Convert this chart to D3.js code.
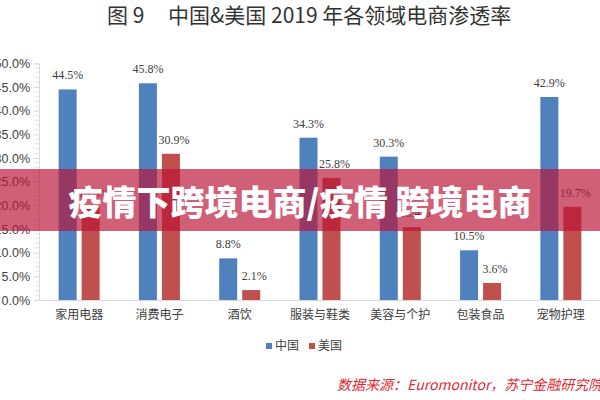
<!DOCTYPE html>
<html><head><meta charset="utf-8">
<script src="https://cdn.jsdelivr.net/npm/d3@7/dist/d3.min.js"></script>
<style>body{margin:0;background:#fff}svg{display:block}</style>
</head><body><svg id="c" width="600" height="400"></svg>
<script>
const categories = ["家用电器","消费电子","酒饮","服装与鞋类","美容与个护","包装食品","宠物护理"];
const chinaValues = [44.5, 45.8, 8.8, 34.3, 30.3, 10.5, 42.9];
const usValues = [19.6, 30.9, 2.1, 25.8, 15.4, 3.6, 19.7];
const seriesNames = ["中国","美国"];
const yTicks = [0,5,10,15,20,25,30,35,40,45,50];

const svg = d3.select("#c");
const colors = ["#4f81bd","#c0504d"];
const x = d3.scaleBand().domain(categories).range([39, 601]);
const y = d3.scaleLinear().domain([0,50]).range([300, 63.4]);

// title
svg.append("text").attr("x",107).attr("y",23).attr("font-family","Noto Sans CJK SC").attr("font-size",21).attr("fill","#333").text("图 9");
svg.append("text").attr("x",168).attr("y",23).attr("font-family","Noto Sans CJK SC").attr("font-size",21).attr("fill","#333").text("中国&美国 2019 年各领域电商渗透率");

// y axis
const yAxis = d3.axisLeft(y).tickValues(yTicks).tickFormat(d => d.toFixed(1) + "%").tickSize(5).tickPadding(4);
const gy = svg.append("g").attr("transform","translate(39,0)").call(yAxis);
gy.select(".domain").attr("stroke","#d9d9d9");
gy.selectAll(".tick line").attr("stroke","#d9d9d9");
gy.selectAll(".tick text").attr("font-family","Liberation Sans").attr("font-size",12.5).attr("fill","#404040");
const minor = d3.range(0,51,1).filter(v => v % 5 !== 0);
svg.append("g").selectAll("line").data(minor).join("line")
  .attr("x1",35).attr("x2",39).attr("y1",d=>y(d)).attr("y2",d=>y(d)).attr("stroke","#e3e3e3");

// x axis
const xAxis = d3.axisBottom(x).tickSize(0).tickPadding(10);
const gx = svg.append("g").attr("transform","translate(0,300)").call(xAxis);
gx.select(".domain").attr("stroke","#d9d9d9");
gx.selectAll(".tick text").attr("font-family","Noto Sans CJK SC").attr("font-size",12).attr("fill","#404040");

// bars
const bw = 18;
const series = [chinaValues, usValues];
const offsets = [-20.5, 2.5];
series.forEach((vals, si) => {
  const g = svg.append("g");
  g.selectAll("rect").data(vals).join("rect")
    .attr("x",(d,i)=>x(categories[i]) + x.bandwidth()/2 + offsets[si])
    .attr("y",d=>y(d)).attr("width",bw).attr("height",d=>y(0)-y(d))
    .attr("fill",colors[si]);
  g.selectAll("text").data(vals).join("text")
    .attr("x",(d,i)=>x(categories[i]) + x.bandwidth()/2 + offsets[si] + bw/2 + (si===1?3:0))
    .attr("y",d=>y(d)-10).attr("text-anchor","middle")
    .attr("font-family","Liberation Serif").attr("font-size",12).attr("fill","#404040")
    .text(d=>d.toFixed(1)+"%");
});

// legend
const leg = svg.append("g");
const legX = [266, 309];
seriesNames.forEach((n,i)=>{
  leg.append("rect").attr("x",legX[i]).attr("y",343).attr("width",6).attr("height",6).attr("fill",colors[i]);
  leg.append("text").attr("x",legX[i]+9).attr("y",350).attr("font-family","Noto Sans CJK SC").attr("font-size",12).attr("fill","#404040").text(n);
});

// banner
svg.append("rect").attr("x",0).attr("y",169).attr("width",600).attr("height",62).attr("fill","rgb(186,21,56)").attr("fill-opacity",0.68);
svg.append("text").attr("x",300).attr("y",215).attr("text-anchor","middle")
  .attr("font-family","Noto Sans CJK SC").attr("font-weight",900).attr("font-size",34).attr("fill","#fff")
  .text("疫情下跨境电商/疫情 跨境电商");

// source
svg.append("text").attr("x",337).attr("y",390).attr("font-family","Noto Sans CJK SC").attr("font-style","italic")
  .attr("font-size",14).attr("fill","#dc2a35").text("数据来源：Euromonitor，苏宁金融研究院");
</script></body></html>
